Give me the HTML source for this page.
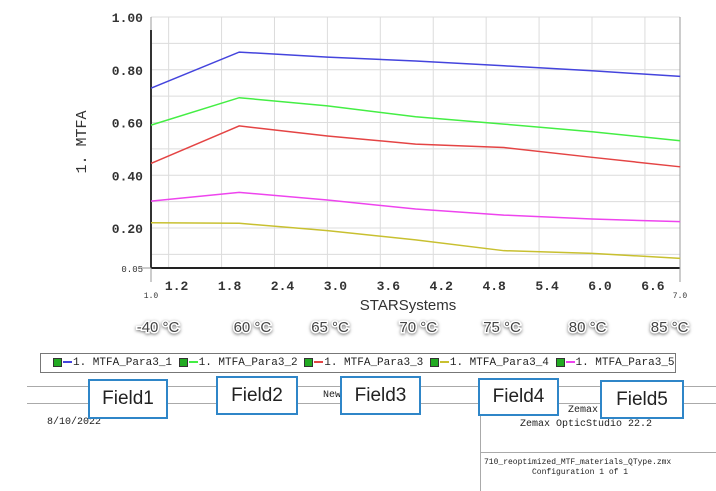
<!DOCTYPE html>
<html><head><meta charset="utf-8"><style>
body{margin:0;background:#fff;width:716px;height:491px;overflow:hidden;position:relative;font-family:"Liberation Mono",monospace}
.f{position:absolute;border:2px solid #2f86c8;background:#fff;font-family:"Liberation Sans",sans-serif;font-size:19px;color:#222;display:flex;align-items:center;justify-content:center;box-sizing:border-box}
.t{position:absolute;font-size:10px;color:#222}
</style></head><body>
<svg id="chart" width="716" height="491" style="position:absolute;left:0;top:0"></svg>
<div style="position:absolute;left:40px;top:353px;width:636px;height:20px;border:1px solid #777;box-sizing:border-box;font-size:11px;line-height:18px;white-space:nowrap;padding-left:12px;color:#222" id="legend"></div>
<div style="position:absolute;left:27px;top:386px;width:689px;border-top:1px solid #aaa"></div>
<div style="position:absolute;left:27px;top:403px;width:689px;border-top:1px solid #aaa"></div>
<div style="position:absolute;left:480px;top:403px;height:88px;border-left:1px solid #aaa"></div>
<div style="position:absolute;left:480px;top:452px;width:236px;border-top:1px solid #aaa"></div>
<div class="t" style="left:47px;top:417px">8/10/2022</div>
<div class="t" style="left:323px;top:390px">New</div>
<div class="t" style="left:568px;top:405px">Zemax</div>
<div class="t" style="left:520px;top:419px">Zemax OpticStudio 22.2</div>
<div class="t" style="left:484px;top:458px;font-size:8px">710_reoptimized_MTF_materials_QType.zmx</div>
<div class="t" style="left:532px;top:468px;font-size:8px">Configuration 1 of 1</div>
<div class="f" style="left:88px;top:379px;width:80px;height:40px">Field1</div>
<div class="f" style="left:216px;top:376px;width:82px;height:39px">Field2</div>
<div class="f" style="left:340px;top:376px;width:81px;height:39px">Field3</div>
<div class="f" style="left:478px;top:378px;width:81px;height:38px">Field4</div>
<div class="f" style="left:600px;top:380px;width:84px;height:39px">Field5</div>
<script>
const xs=[1,2,3,4,5,6,7];
const s1=[0.73,0.867,0.848,0.833,0.815,0.796,0.775];
const s2=[0.59,0.694,0.663,0.622,0.594,0.565,0.531];
const s3=[0.445,0.587,0.549,0.518,0.505,0.468,0.432];
const s4=[0.22,0.218,0.19,0.155,0.114,0.104,0.085];
const s5=[0.302,0.335,0.306,0.272,0.249,0.234,0.224];
const seriesNames=["1. MTFA_Para3_1","1. MTFA_Para3_2","1. MTFA_Para3_3","1. MTFA_Para3_4","1. MTFA_Para3_5"];
const xTicks=[1.2,1.8,2.4,3.0,3.6,4.2,4.8,5.4,6.0,6.6];
const yTicks=[0.2,0.4,0.6,0.8,1.0];
const tempLabels=["-40 °C","60 °C","65 °C","70 °C","75 °C","80 °C","85 °C"];
const tempX=[1.08,2.15,3.03,4.03,4.98,5.95,6.88];
const colors=["#4444dd","#44ee44","#e44444","#c8c030","#ee44ee"];
const X=v=>151+(v-1)*88.2, Y=v=>17+(1-v)*263.75;
const svg=document.getElementById('chart'),NS='http://www.w3.org/2000/svg';
function mk(t,a,p){const e=document.createElementNS(NS,t);for(const k in a)e.setAttribute(k,a[k]);(p||svg).appendChild(e);return e;}
for(let v=0.1;v<1.001;v+=0.1){const l=mk('line',{x1:151,x2:680,y1:Y(v),y2:Y(v),stroke:'#dcdcdc'});}
xTicks.forEach(v=>{const l=mk('line',{x1:X(v),x2:X(v),y1:17,y2:268,stroke:'#dcdcdc'});
const t=mk('text',{x:X(v)+8,y:290,'font-size':13,'text-anchor':'middle',fill:'#333','font-weight':'bold','font-family':'Liberation Mono,monospace'});t.textContent=v.toFixed(1);});
yTicks.forEach(v=>{const t=mk('text',{x:143,y:Y(v)+5,'font-size':13,'text-anchor':'end',fill:'#333','font-weight':'bold','font-family':'Liberation Mono,monospace'});t.textContent=v.toFixed(2);});
let t=mk('text',{x:143,y:272,'font-size':9,'text-anchor':'end',fill:'#333','font-family':'Liberation Mono,monospace'});t.textContent='0.05';
t=mk('text',{x:151,y:298,'font-size':8,'text-anchor':'middle',fill:'#333','font-family':'Liberation Mono,monospace'});t.textContent='1.0';
t=mk('text',{x:680,y:298,'font-size':8,'text-anchor':'middle',fill:'#333','font-family':'Liberation Mono,monospace'});t.textContent='7.0';
let a=mk('line',{x1:151,x2:151,y1:30,y2:268,stroke:'#333','stroke-width':2});
a=mk('line',{x1:151,x2:680,y1:268,y2:268,stroke:'#222','stroke-width':2});
a=mk('line',{x1:680,x2:680,y1:17,y2:282,stroke:'#999'});
a=mk('line',{x1:151,x2:151,y1:17,y2:30,stroke:'#999'});
a=mk('line',{x1:151,x2:151,y1:268,y2:282,stroke:'#999'});
a=mk('line',{x1:140,x2:151,y1:268,y2:268,stroke:'#999'});
t=mk('text',{x:0,y:0,'font-size':15,'text-anchor':'middle',fill:'#333',transform:'translate(86,142) rotate(-90)','font-family':'Liberation Mono,monospace'});t.textContent='1. MTFA';
t=mk('text',{x:408,y:310,'font-size':15,'text-anchor':'middle',fill:'#333','font-family':'Liberation Sans,sans-serif'});t.textContent='STARSystems';
[s1,s2,s3,s4,s5].forEach((s,i)=>{const p=mk('polyline',{points:s.map((v,j)=>X(xs[j])+','+Y(v)).join(' '),fill:'none',stroke:colors[i],'stroke-width':1.5});});
tempLabels.forEach((l,i)=>{const tt=mk('text',{x:X(tempX[i]),y:332,'font-size':15,'text-anchor':'middle',fill:'#444',style:'paint-order:stroke;stroke:#fff;stroke-width:3px;filter:drop-shadow(0 1px 1.5px #777)','font-family':'Liberation Sans,sans-serif'});tt.textContent=l;});
const lg=document.getElementById('legend');
seriesNames.forEach((n,i)=>{const sp=document.createElement('span');


sp.innerHTML='<span style="display:inline-block;width:7px;height:7px;background:#2a2;border:1px solid #333;vertical-align:middle"></span><span style="display:inline-block;width:9px;height:2px;background:'+colors[i]+';vertical-align:middle;margin:0 1px"></span>'+n+' ';lg.appendChild(sp);});
</script>
</body></html>
